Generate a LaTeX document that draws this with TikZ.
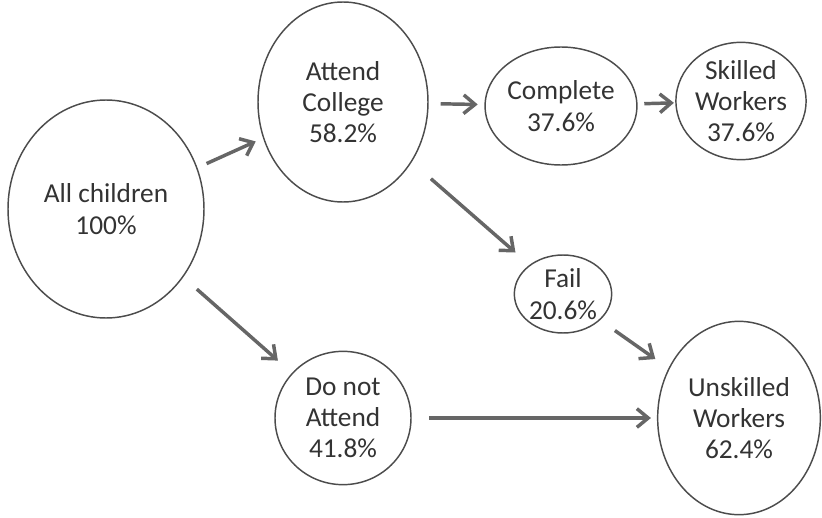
\documentclass[tikz,border=0pt]{standalone}
\usepackage{fontspec}
\setmainfont{Carlito}
\usepackage{tikz}
\usetikzlibrary{shapes.geometric, arrows.meta}

\begin{document}
\begin{tikzpicture}[x=0.75pt, y=-0.75pt,
        bubble/.style={ellipse, draw=black!70, line width=1.1pt, inner sep=0pt,
            align=center, text=black!80, font=\fontsize{20.5}{23.5}\selectfont},
        flow/.style={draw=black!60, line width=2.6pt,
            -{Straight Barb[length=8.5pt, width=14pt]}}]
                \useasboundingbox (0,0) rectangle (822,518);
                \node[bubble, minimum width=147pt, minimum height=163.5pt] (all) at (106,209) {All children\\100\%};
                \node[bubble, minimum width=127.5pt, minimum height=150pt] (attend) at (343,102) {Attend\\College\\58.2\%};
                \node[bubble, minimum width=102pt, minimum height=100pt] (donot) at (343,418) {Do not\\Attend\\41.8\%};
                \node[bubble, minimum width=96pt, minimum height=88.5pt] (complete) at (561,106) {Complete\\37.6\%};
                \node[bubble, minimum width=95pt, minimum height=88pt] (skilled) at (741,101) {Skilled\\Workers\\37.6\%};
                \node[bubble, minimum width=73pt, minimum height=58.5pt] (fail) at (563,294) {Fail\\20.6\%};
                \node[bubble, minimum width=122pt, minimum height=145pt] (unskilled) at (739,418) {Unskilled\\Workers\\62.4\%};
                \draw[flow, shorten <=7.5pt, shorten >=6pt] (all) -- (attend);
                \draw[flow, shorten <=13.5pt, shorten >=14pt] (all) -- (donot);
                \draw[flow, shorten <=9pt, shorten >=5pt] (attend) -- (complete);
                \draw[flow, shorten <=5pt, shorten >=1pt] (complete) -- (skilled);
                \draw[flow, shorten <=19pt, shorten >=14pt] (attend) -- (fail);
                \draw[flow, shorten <=13.5pt, shorten >=12pt] (fail) -- (unskilled);
                \draw[flow, shorten <=13pt, shorten >=4.5pt] (donot) -- (unskilled);
            \end{tikzpicture}
\end{document}
